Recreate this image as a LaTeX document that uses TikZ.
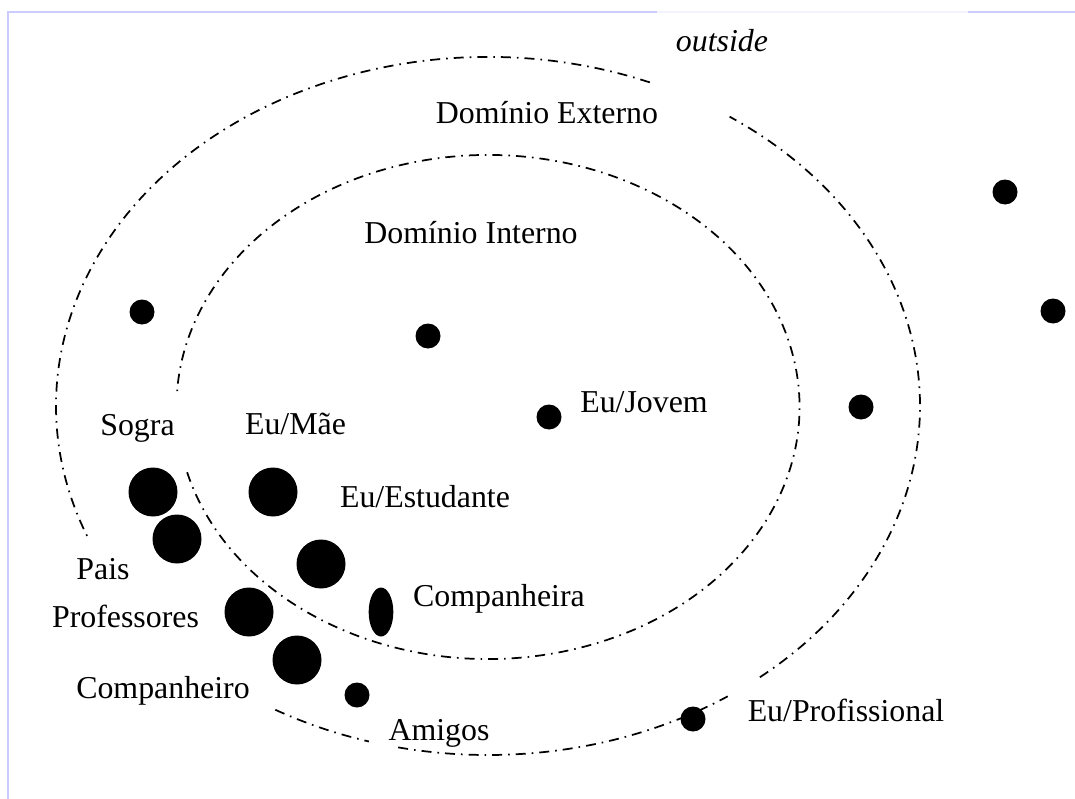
\documentclass[tikz,border=0pt]{standalone}
\usepackage{fontspec}
\setmainfont{Liberation Serif}
\usetikzlibrary{shapes.geometric}
\definecolor{framelilac}{RGB}{204,204,255}
\definecolor{framepale}{RGB}{243,243,255}
\begin{document}
\begin{tikzpicture}[x=0.75pt,y=0.75pt,inner sep=0pt,outer sep=0pt,
word/.style={anchor=base,font=\fontsize{23.9pt}{28pt}\selectfont},
bigdot/.style={circle,fill,minimum size=36.75pt},
smalldot/.style={circle,fill,minimum size=18.75pt},
ring/.style={line width=1.3pt,dash pattern=on 7.5pt off 4.5pt on 1.2pt off 4.5pt}]
\useasboundingbox (0,0) rectangle (1075,-799);
\draw[framelilac,line width=1.6pt] (8,-799) -- (8,-12) -- (657,-12);
\draw[framepale,line width=1.6pt] (657,-12) -- (968,-12);
\draw[framelilac,line width=1.6pt] (968,-12) -- (1075,-12);

\foreach \a/\b in {240.5/254,258/303.7,309/416,68/202}
  \draw[ring] (488,-406) ++(\a:432 and 349) arc[start angle=\a,end angle=\b,x radius=432,y radius=349];
\draw[ring] (488,-407) ++(195:311.5 and 252) arc[start angle=195,end angle=537,x radius=311.5,y radius=252];

\draw (722,-52) node[word,font=\fontsize{23.9pt}{28pt}\selectfont\itshape] (outside) {outside};
\draw (547,-123) node[word] (externo) {Domínio Externo};
\draw (471,-243) node[word] (interno) {Domínio Interno};
\draw (644,-412) node[word] (jovem) {Eu/Jovem};
\draw (137.5,-435) node[word] (sogra) {Sogra};
\draw (295.5,-434) node[word] (mae) {Eu/Mãe};
\draw (425,-507) node[word] (estudante) {Eu/Estudante};
\draw (103,-579) node[word] (pais) {Pais};
\draw (125.5,-627) node[word] (professores) {Professores};
\draw (163,-698) node[word] (companheiro) {Companheiro};
\draw (499,-606) node[word] (companheira) {Companheira};
\draw (439,-740) node[word] (amigos) {Amigos};
\draw (846,-721) node[word] (profissional) {Eu/Profissional};

\draw (1005,-192) node[smalldot] (out1) {};
\draw (1053,-311) node[smalldot] (out2) {};
\draw (861,-407) node[smalldot] (ext1) {};
\draw (142,-312) node[smalldot] (ext2) {};
\draw (428,-336) node[smalldot] (int1) {};
\draw (549,-417) node[smalldot] (jovemdot) {};
\draw (693,-719) node[smalldot] (profdot) {};
\draw (357,-695) node[smalldot] (amigosdot) {};
\draw (153,-492) node[bigdot] (sogradot) {};
\draw (177,-539) node[bigdot] (paisdot) {};
\draw (273,-492) node[bigdot] (maedot) {};
\draw (321,-564) node[bigdot] (estudantedot) {};
\draw (249,-612) node[bigdot] (professoresdot) {};
\draw (297,-660) node[bigdot] (companheirodot) {};
\draw (381,-612) node[ellipse,fill,minimum width=18.5pt,minimum height=36.75pt] (companheiradot) {};
\end{tikzpicture}
\end{document}
